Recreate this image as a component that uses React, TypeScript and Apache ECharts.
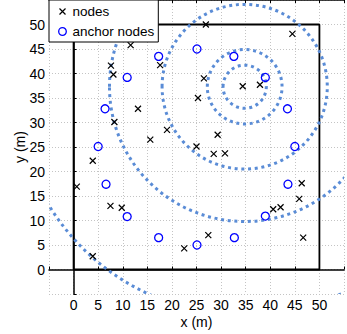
import React, { useEffect, useRef } from "react";
import * as echarts from "echarts";

// Data
const nodes: number[][] = [
  [7.6, 41.6], [8.1, 39.8], [11.6, 45.8], [13.1, 32.8], [8.3, 30.1], [15.6, 26.5],
  [19.0, 28.5], [17.6, 41.7], [3.9, 22.2], [26.9, 50.0], [44.5, 48.1], [26.5, 39.0],
  [34.4, 37.4], [37.9, 37.7], [25.3, 35.0], [29.3, 27.5], [25.0, 25.1], [28.5, 23.6],
  [30.8, 23.7], [0.65, 16.9], [7.5, 13.0], [9.8, 12.6], [3.9, 2.7], [46.4, 17.6],
  [45.9, 14.4], [40.6, 12.3], [42.1, 12.7], [27.4, 7.0], [22.5, 4.3], [46.7, 6.5],
];
const anchors: number[][] = [
  [17.3, 43.5], [10.9, 39.2], [6.4, 32.8], [5.0, 25.1], [25.1, 45.0], [32.6, 43.5],
  [39.0, 39.2], [43.5, 32.8], [45.0, 25.1], [6.6, 17.4], [10.9, 10.8], [17.3, 6.5],
  [43.6, 17.4], [39.0, 10.9], [32.7, 6.5], [25.1, 5.0],
];
const circleCenter = [34.8, 37.3];
const circleRadii = [4.4, 7.6, 16.8, 27.5, 46.6];
const squareCorners: number[][] = [[0, 0], [50, 0], [50, 50], [0, 50], [0, 0]];
const xTickLabels = [0, 5, 10, 15, 20, 25, 30, 35, 40, 45, 50];
const yTickLabels = [0, 5, 10, 15, 20, 25, 30, 35, 40, 45, 50];
const seriesNames = ["nodes", "anchor nodes"];

const FONT = "Liberation Sans, Arial, Helvetica, sans-serif";
const DOT_BLUE = "#5a8cd6";
const crossPath = "path://M0,0M10,10M2,2L8,8M8,2L2,8";

export default function App() {
  const ref = useRef<HTMLDivElement>(null);
  useEffect(() => {
    if (!ref.current) return;
    const chart = echarts.init(ref.current, null, { renderer: "svg" });
    const axisCommon = {
      type: "value",
      min: -5,
      max: 55,
      interval: 5,
      axisLine: { show: true, lineStyle: { color: "#000", width: 1.5 } },
      axisTick: { show: true, inside: true, length: 3, lineStyle: { color: "#000", width: 1 } },
    };
    chart.setOption({
      animation: false,
      textStyle: { fontFamily: FONT },
      grid: { left: 49, top: 0, width: 305, height: 294, containLabel: false },
      legend: {
        orient: "vertical",
        left: 49,
        top: 0,
        padding: [4, 4, 3, 6],
        itemGap: 5,
        itemWidth: 10,
        itemHeight: 10,
        backgroundColor: "#fff",
        borderColor: "#000",
        borderWidth: 1,
        borderRadius: 0,
        textStyle: { fontFamily: FONT, fontSize: 13.5, color: "#000", padding: [0, 0, 0, 0] },
        data: [
          { name: seriesNames[0], icon: crossPath, itemStyle: { color: "none", borderColor: "#000", borderWidth: 1.2 } },
          { name: seriesNames[1], icon: "path://M0,0M10,10M1.2,5a3.8,3.8 0 1,0 7.6,0a3.8,3.8 0 1,0 -7.6,0", itemStyle: { color: "none", borderColor: "#0000ff", borderWidth: 1.3 } },
        ],
        z: 20,
      },
      xAxis: [
        {
          ...axisCommon,
          position: "bottom",
          name: "x (m)",
          nameLocation: "middle",
          nameMoveOverlap: false,
          nameGap: 21,
          nameTextStyle: { fontFamily: FONT, fontSize: 14, color: "#000" },
          axisLabel: {
            fontFamily: FONT, fontSize: 14, color: "#000", margin: 4,
            formatter: (v: number) => (xTickLabels.includes(v) ? String(v) : ""),
          },
          splitLine: { show: true, lineStyle: { color: "#c4c4c4", type: [1, 2], width: 1 } },
        },
        {
          ...axisCommon,
          position: "top",
          axisLabel: { show: false },
          splitLine: { show: false },
        },
      ],
      yAxis: [
        {
          ...axisCommon,
          position: "left",
          name: "y (m)",
          nameLocation: "middle",
          nameMoveOverlap: false,
          nameGap: 22,
          nameTextStyle: { fontFamily: FONT, fontSize: 14, color: "#000" },
          axisLabel: {
            fontFamily: FONT, fontSize: 14, color: "#000", margin: 4,
            formatter: (v: number) => (yTickLabels.includes(v) ? String(v) : ""),
          },
          splitLine: { show: true, lineStyle: { color: "#c4c4c4", type: [1, 2], width: 1 } },
        },
      ],
      series: [
        {
          name: "square",
          type: "line",
          data: squareCorners,
          symbol: "none",
          silent: true,
          lineStyle: { color: "#000", width: 1.8 },
          z: 2,
        },
        {
          name: "ranges",
          type: "custom",
          clip: true,
          silent: true,
          data: circleRadii.map((r) => [circleCenter[0], circleCenter[1], r]),
          dimensions: ["x", "y", "r"],
          encode: { x: 0, y: 1 },
          renderItem: (params: any, api: any) => {
            const c = api.coord([api.value(0), api.value(1)]);
            const r = api.value(2);
            const s = api.size([r, r]);
            return {
              type: "ellipse",
              shape: { cx: c[0], cy: c[1], rx: s[0], ry: s[1] },
              style: { fill: "none", stroke: DOT_BLUE, lineWidth: 3, lineDash: [3, 3.7] },
            };
          },
          z: 3,
        },
        {
          name: seriesNames[0],
          type: "scatter",
          data: nodes,
          symbol: crossPath,
          symbolSize: 10,
          itemStyle: { color: "none", borderColor: "#000", borderWidth: 1.2, opacity: 1 },
          z: 5,
        },
        {
          name: seriesNames[1],
          type: "scatter",
          data: anchors,
          symbol: "circle",
          symbolSize: 8,
          itemStyle: { color: "none", borderColor: "#0000ff", borderWidth: 1.3, opacity: 1 },
          z: 5,
        },
      ],
    });
    return () => chart.dispose();
  }, []);
  return (
    <div
      ref={ref}
      style={{ position: "absolute", left: 0, top: 0, width: 347, height: 334 }}
    />
  );
}
